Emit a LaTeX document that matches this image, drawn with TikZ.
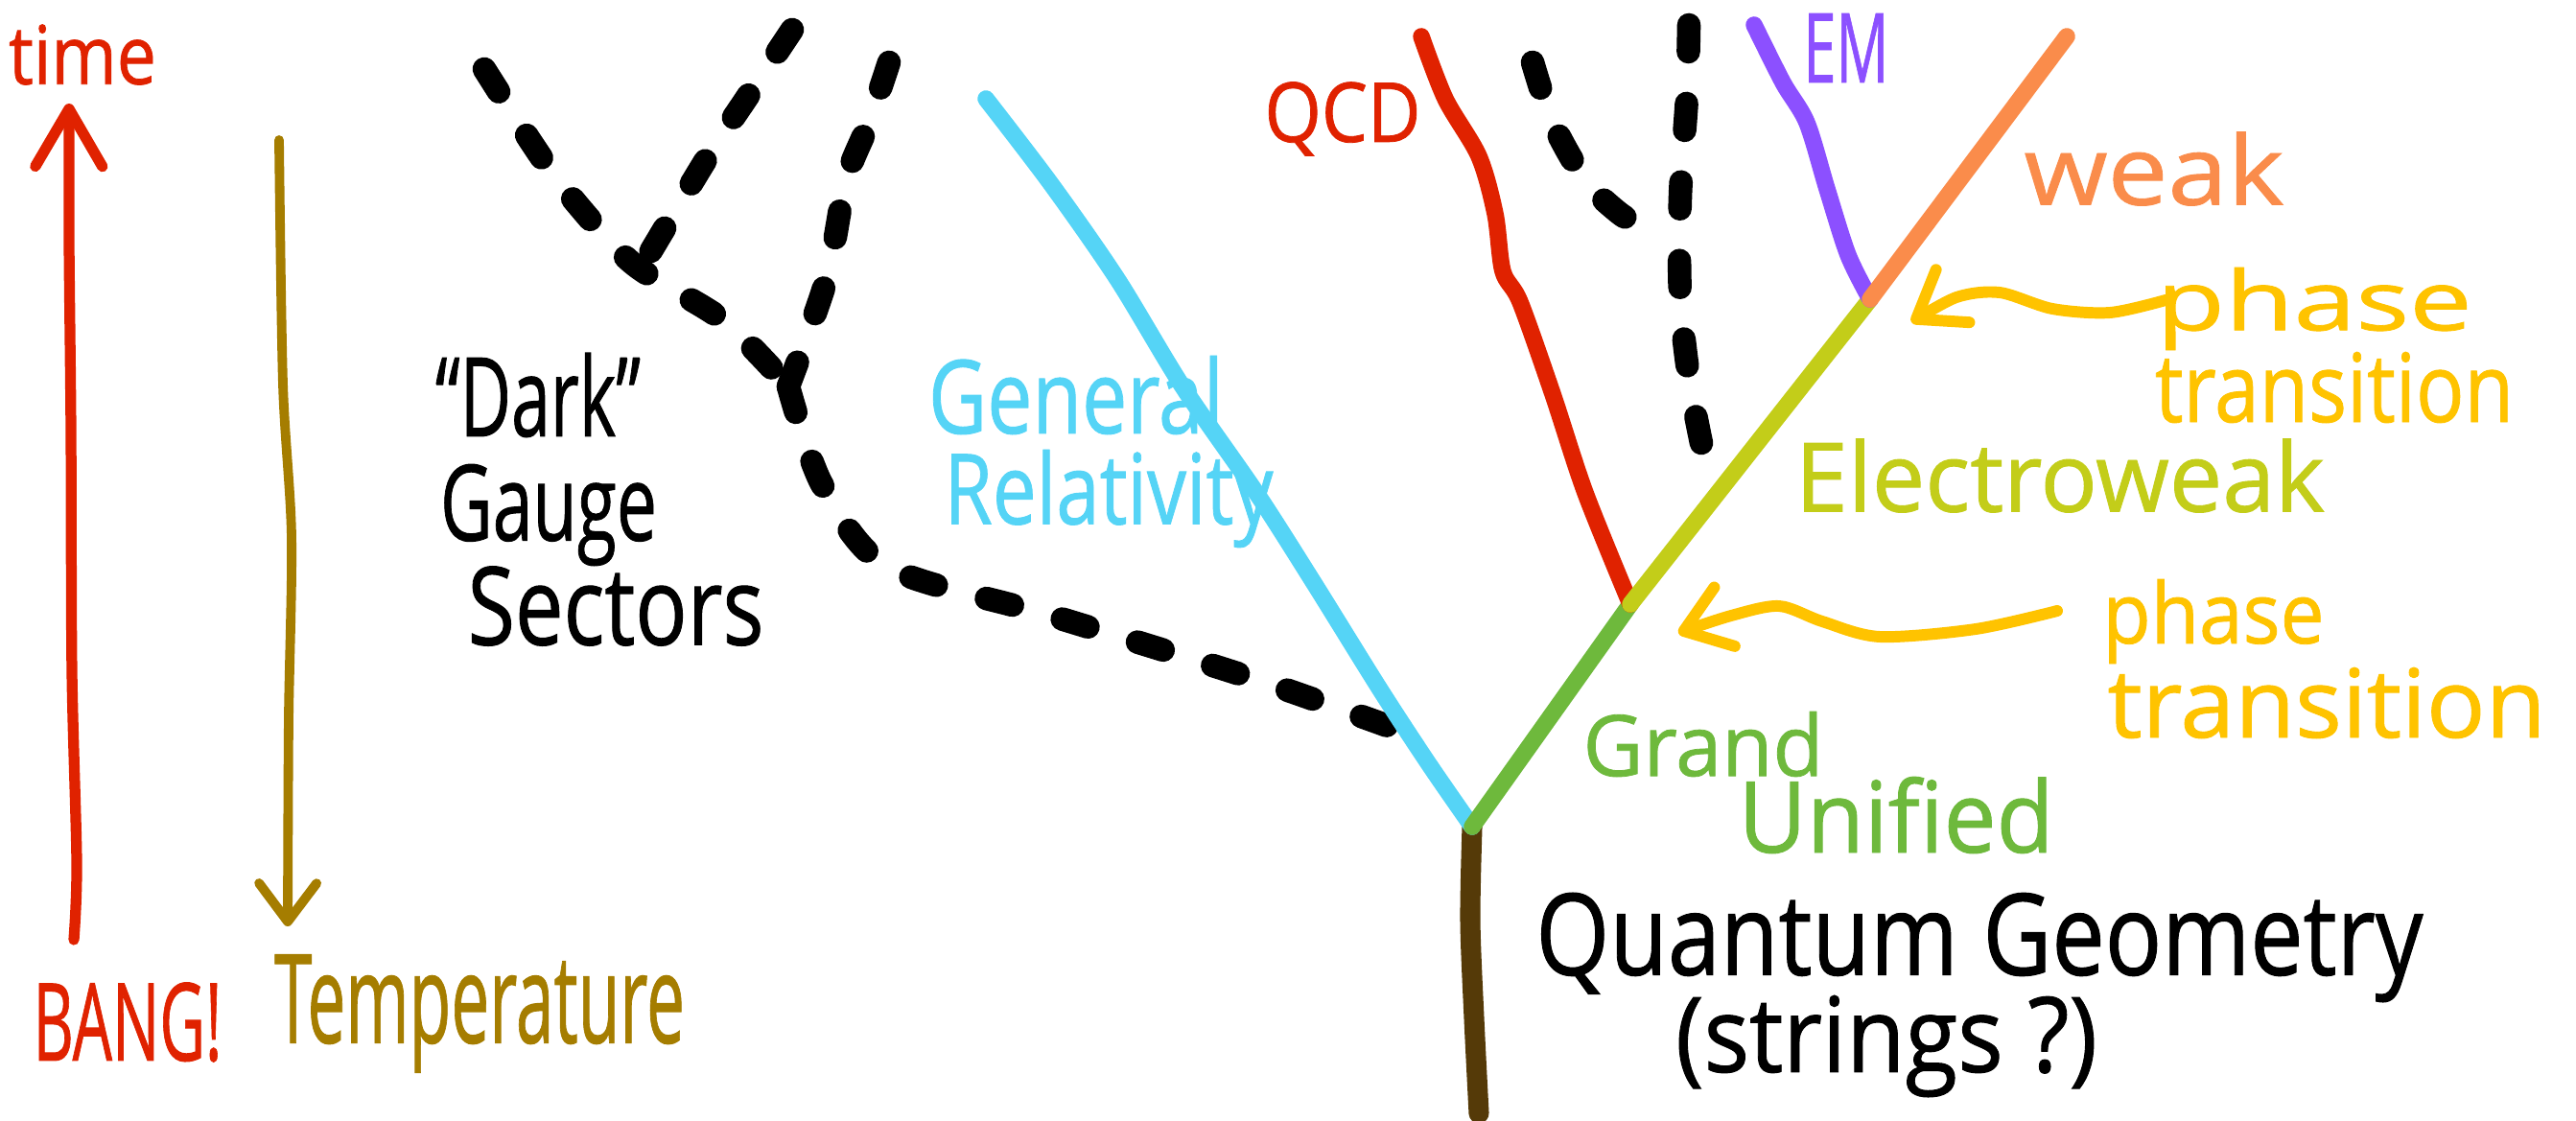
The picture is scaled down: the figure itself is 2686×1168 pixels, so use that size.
\documentclass[tikz,border=0pt]{standalone}
\usepackage{graphicx}
\usepackage{fontspec}
\setmainfont{Open Sans}[BoldFont={Open Sans}, BoldFeatures={FakeBold=0.9}]
\usetikzlibrary{arrows.meta}
\definecolor{cRed}{RGB}{224,34,0}
\definecolor{cTemp}{RGB}{165,125,0}
\definecolor{cCyan}{RGB}{85,212,246}
\definecolor{cTrunk}{RGB}{85,58,8}
\definecolor{cGreen}{RGB}{110,185,60}
\definecolor{cEW}{RGB}{195,205,25}
\definecolor{cPurple}{RGB}{140,80,255}
\definecolor{cOrange}{RGB}{250,140,75}
\definecolor{cYellow}{RGB}{255,195,0}
\newcommand\hwlabel[3]{\resizebox*{#1}{#2}{\bfseries #3}}
\tikzset{
  branch/.style={line width=5pt, line cap=round, line join=round},
  darkline/.style={line width=7pt, line cap=round, dash pattern=on 2.8mm off 5.4mm},
  handarrow/.style={line width=3.2pt, line cap=round, line join=round,
    -{Straight Barb[length=6mm,width=7mm,round]}},
  wavyarrow/.style={line width=3.4pt, line cap=round, line join=round, cYellow,
    -{Straight Barb[length=4.5mm,width=6.5mm,round]}},
  lbl/.style={inner sep=0pt, outer sep=0pt}
}
\begin{document}
\begin{tikzpicture}[x=0.1mm,y=-0.1mm]
\useasboundingbox (0,0) rectangle (2686,1168);

% named points of the tree
\coordinate (trunkbot) at (1542,1161);
\coordinate (root) at (1535,862);
\coordinate (gut) at (1700,630);
\coordinate (ew) at (1950,312);
\coordinate (grtop) at (1028,103);
\coordinate (qcdtop) at (1482,38);
\coordinate (emtop) at (1829,26);
\coordinate (weaktop) at (2155,38);

% side arrows
\coordinate (timebot) at (77,980);
\coordinate (timetop) at (72,108);
\coordinate (tempTop) at (291,146);
\coordinate (tempBot) at (300,966);

% labels
\node[lbl, cRed] (time) at (86,57) {\hwlabel{15.4mm}{6.3mm}{time}};
\node[lbl, cRed] (bang) at (133,1066) {\hwlabel{19.7mm}{8.3mm}{BANG!}};
\node[lbl, cTemp] (temp) at (500,1057) {\hwlabel{42.8mm}{12.3mm}{Temperature}};
\node[lbl] (dark) at (561,412) {\hwlabel{21.4mm}{8.8mm}{“Dark”}};
\node[lbl] (gauge) at (572,537) {\hwlabel{22.6mm}{10.6mm}{Gauge}};
\node[lbl] (sectors) at (642,632) {\hwlabel{30.9mm}{8.3mm}{Sectors}};
\node[lbl, cCyan] (general) at (1122,412) {\hwlabel{30.8mm}{8.2mm}{General}};
\node[lbl, cCyan] (relativity) at (1156,520) {\hwlabel{34.3mm}{10.2mm}{Relativity}};
\node[lbl, cRed] (qcd) at (1400,124) {\hwlabel{16.3mm}{7.7mm}{QCD}};
\node[lbl, cPurple] (em) at (1925,50) {\hwlabel{8.9mm}{7.2mm}{EM}};
\node[lbl, cOrange] (weak) at (2246,176) {\hwlabel{27.1mm}{7.7mm}{weak}};
\node[lbl, cYellow] (phaseA) at (2413,322) {\hwlabel{32.9mm}{8.6mm}{phase}};
\node[lbl, cYellow] (transA) at (2434,404) {\hwlabel{37.4mm}{7.4mm}{transition}};
\node[lbl, cEW] (ewlab) at (2148,496) {\hwlabel{55.2mm}{7.7mm}{Electroweak}};
\node[lbl, cYellow] (phaseB) at (2308,648) {\hwlabel{23.1mm}{8.8mm}{phase}};
\node[lbl, cYellow] (transB) at (2426,733) {\hwlabel{45.7mm}{7.4mm}{transition}};
\node[lbl, cGreen] (grand) at (1776,776) {\hwlabel{25.1mm}{6.8mm}{Grand}};
\node[lbl, cGreen] (unified) at (1977,850) {\hwlabel{32.9mm}{8.0mm}{Unified}};
\node[lbl] (qg) at (2064,988) {\hwlabel{92.5mm}{11.4mm}{Quantum Geometry}};
\node[lbl] (strings) at (1967,1091) {\hwlabel{44mm}{10.6mm}{(strings ?)}};

% time and temperature arrows
\draw[handarrow, cRed] plot[smooth] coordinates {(timebot) (80,900) (75,700) (74,450) (72,250) (timetop)};
\draw[handarrow, cTemp, line width=2.8pt, -{Straight Barb[length=4mm,width=6mm,round]}]
  plot[smooth] coordinates {(tempTop) (295,400) (304,560) (301,750) (tempBot)};

% dark gauge sectors (dashed)
\coordinate (dA) at (505,72);
\coordinate (dB) at (826,31);
\coordinate (dC) at (927,65);
\coordinate (dY) at (822,403);
\coordinate (dEnd) at (1447,757);
\draw[darkline] plot[smooth] coordinates {(dA) (555,150) (591,200) (660,275) (754,334) (dY)};
\draw[darkline] plot[smooth] coordinates {(dB) (780,100) (737,165) (665,285)};
\draw[darkline] plot[smooth] coordinates {(dC) (905,130) (882,188) (862,290) (dY)};
\draw[darkline] plot[smooth] coordinates {(dY) (857,505) (925,591) (1096,642) (1302,706) (dEnd)};
\coordinate (dE) at (1598,65);
\coordinate (dF) at (1761,26);
\coordinate (dFend) at (1783,505);
\draw[darkline] plot[smooth] coordinates {(dE) (1619,128) (1653,188) (1688,222) (1712,236)};
\draw[darkline] plot[smooth] coordinates {(dF) (1759,100) (1752,205) (1752,308) (1762,400) (dFend)};

% tree branches
\draw[branch, cTrunk, line width=6pt] plot[smooth] coordinates {(root) (1533,960) (1537,1062) (trunkbot)};
\draw[branch, cCyan] plot[smooth] coordinates {(grtop) (1096,192) (1165,291) (1233,403) (1310,514) (1370,608) (1439,719) (1490,797) (root)};
\draw[branch, cGreen] (root) -- (gut);
\draw[branch, cRed] plot[smooth] coordinates {(qcdtop) (1507,103) (1542,163) (1559,223) (1567,283) (1585,315) (1619,411) (1653,514) (gut)};
\draw[branch, cEW] (gut) -- (ew);
\draw[branch, cPurple] plot[smooth] coordinates {(emtop) (1859,86) (1884,128) (1905,197) (1927,266) (ew)};
\draw[branch, cOrange] (ew) -- (weaktop);

% phase transition arrows
\coordinate (pA) at (2258,313);
\coordinate (pAtip) at (1993,336);
\coordinate (pB) at (2145,637);
\coordinate (pBtip) at (1750,660);
\draw[wavyarrow] plot[smooth] coordinates {(pA) (2200,326) (2140,322) (2085,305) (2040,310) (pAtip)};
\draw[wavyarrow] plot[smooth] coordinates {(pB) (2060,656) (1960,664) (1900,648) (1855,632) (1805,642) (pBtip)};
\end{tikzpicture}
\end{document}
